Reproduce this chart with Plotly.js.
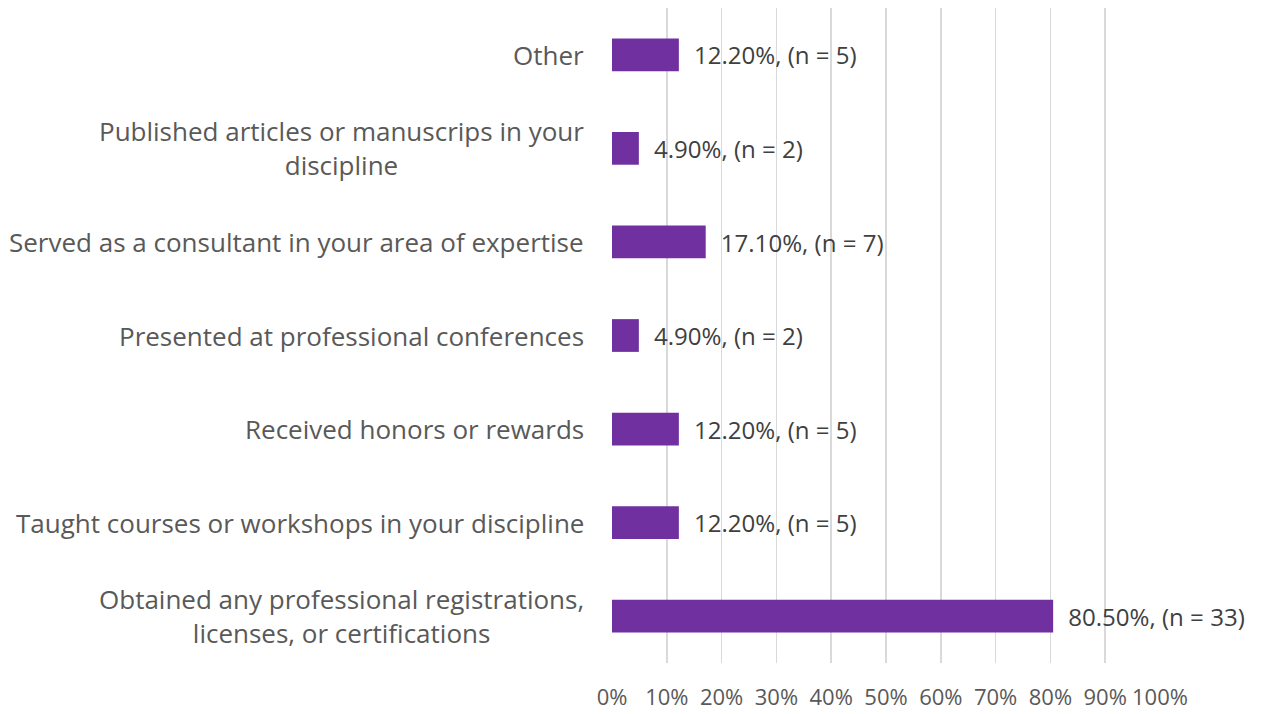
<!DOCTYPE html>
<html><head><meta charset="utf-8">
<script src="https://cdn.plot.ly/plotly-3.0.1.min.js"></script>
<style>html,body{margin:0;padding:0;background:#fff}#chart{width:1269px;height:714px}</style>
</head><body><div id="chart"></div>
<script>
const categories = [
  "Other",
  "Published articles or manuscrips in your<br>discipline",
  "Served as a consultant in your area of expertise",
  "Presented at professional conferences",
  "Received honors or rewards",
  "Taught courses or workshops in your discipline",
  "Obtained any professional registrations,<br>licenses, or certifications"
];
const percents = [12.2, 4.9, 17.1, 4.9, 12.2, 12.2, 80.5];
const counts = [5, 2, 7, 2, 5, 5, 33];
const tickVals = [0,10,20,30,40,50,60,70,80,90,100];
const tickText = tickVals.map(v => v + "%");

const FONT = "'Open Sans', sans-serif";
const labels = percents.map((p,i) => "\u2002" + p.toFixed(2) + "%, (n = " + counts[i] + ")");

const trace = {
  type: "bar", orientation: "h",
  x: percents, y: categories,
  marker: {color: "#7030A0"},
  text: labels, textposition: "outside", cliponaxis: false,
  textfont: {family: FONT, size: 25, color: "#404040"},
  hoverinfo: "none"
};

const annotations = categories.map(c => ({
  xref: "paper", yref: "y", x: 0, y: c, xanchor: "right", yanchor: "middle",
  xshift: -26, text: c, align: "center", showarrow: false,
  font: {family: FONT, size: 26, color: "#595959"}
}));

const layout = {
  width: 1269, height: 714,
  margin: {l: 612, r: 109, t: 8, b: 51},
  paper_bgcolor: "#fff", plot_bgcolor: "#fff",
  bargap: 0.65,
  showlegend: false,
  xaxis: {range: [0, 100], tickvals: tickVals, ticktext: tickText,
    showgrid: true, gridcolor: "#D9D9D9", gridwidth: 1.5, zeroline: false,
    showline: false, ticks: "", ticklabelstandoff: 19,
    tickfont: {family: FONT, size: 22, color: "#595959"}, fixedrange: true},
  yaxis: {type: "category", autorange: "reversed", showticklabels: false,
    showgrid: false, zeroline: false, showline: false, ticks: "", fixedrange: true},
  annotations: annotations
};

Plotly.newPlot("chart", [trace], layout, {displayModeBar: false, staticPlot: true});
</script></body></html>
